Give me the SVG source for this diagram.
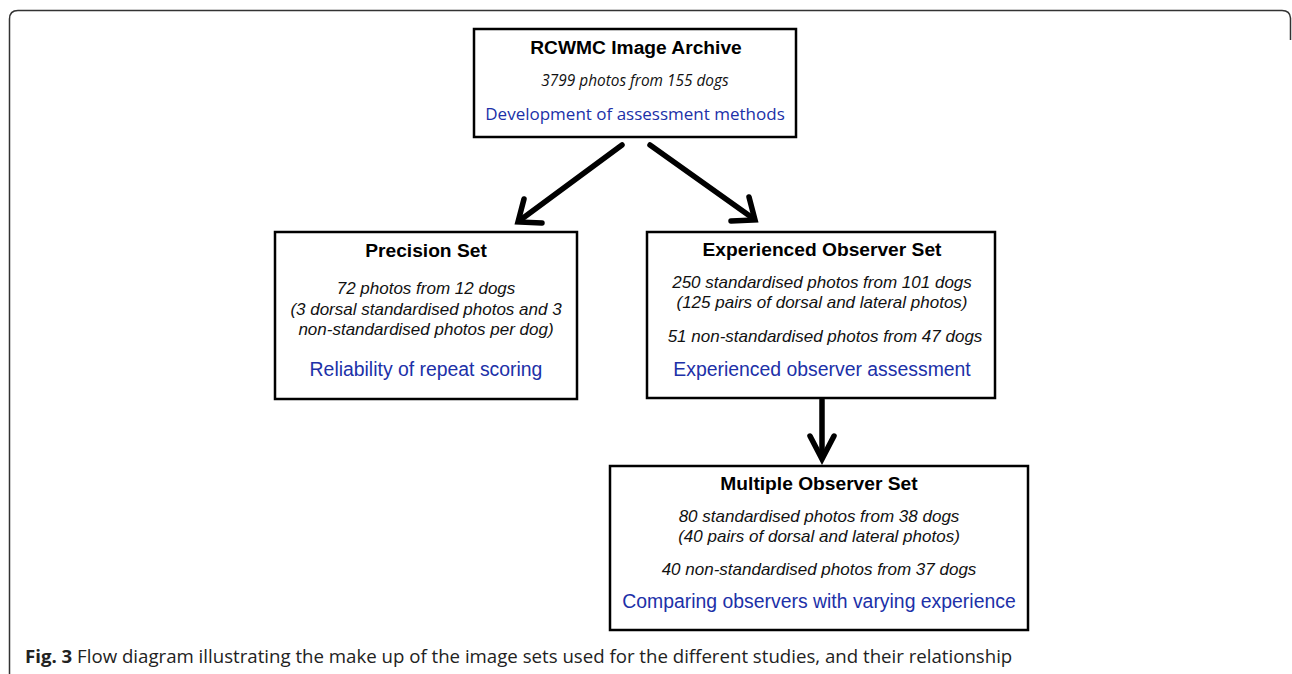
<svg xmlns="http://www.w3.org/2000/svg" width="1292" height="674" viewBox="0 0 1292 674">
<style>
.box{fill:#fff;stroke:#000;stroke-width:2.5}
.title{font-family:"Liberation Sans",Arial,sans-serif;font-weight:bold;font-size:19.2px;fill:#000;text-anchor:middle}
.it{font-family:"Liberation Sans",Arial,sans-serif;font-style:italic;font-size:17px;fill:#111;text-anchor:middle}
.blue{font-family:"Liberation Sans",Arial,sans-serif;font-size:19.4px;fill:#2030a8;text-anchor:middle}
.itc{font-family:"Open Sans",sans-serif;font-style:italic;font-size:15.4px;fill:#111;text-anchor:middle}
.bluec{font-family:"Open Sans",sans-serif;font-size:17px;fill:#2030a8;text-anchor:middle}
.arr{fill:none;stroke:#000;stroke-width:5.5;stroke-linecap:round;stroke-linejoin:miter}
.cap{font-family:"Open Sans",sans-serif;font-size:18.65px;fill:#222}
</style>
<path d="M9.5 674 V19 Q9.5 10.5 18 10.5 H1282 Q1290 10.5 1290.5 18 V40" fill="none" stroke="#333" stroke-width="1.5"/>
<g id="connectors">
<line class="arr" x1="622" y1="145" x2="519" y2="221"/>
<polyline class="arr" points="524,199 518,222 542,223"/>
<line class="arr" x1="650" y1="145" x2="754" y2="219"/>
<polyline class="arr" points="731,221 755,220 749,197"/>
<line class="arr" x1="822" y1="400" x2="822" y2="457"/>
<polyline class="arr" points="810,436 822,459 834,436"/>
</g>
<g id="archive">
<rect class="box" x="474" y="29" width="322" height="108"/>
<text class="title" x="636" y="54">RCWMC Image Archive</text>
<text class="itc" x="635" y="86">3799 photos from 155 dogs</text>
<text class="bluec" x="635" y="120">Development of assessment methods</text>
</g>
<g id="precision">
<rect class="box" x="275" y="232" width="302" height="167"/>
<text class="title" x="426" y="257">Precision Set</text>
<text class="it" x="426" y="294">72 photos from 12 dogs</text>
<text class="it" x="426" y="315">(3 dorsal standardised photos and 3</text>
<text class="it" x="426" y="335">non-standardised photos per dog)</text>
<text class="blue" x="426" y="376">Reliability of repeat scoring</text>
</g>
<g id="experienced">
<rect class="box" x="647" y="232" width="348" height="166"/>
<text class="title" x="822" y="256">Experienced Observer Set</text>
<text class="it" x="822" y="288">250 standardised photos from 101 dogs</text>
<text class="it" x="822" y="308">(125 pairs of dorsal and lateral photos)</text>
<text class="it" x="825" y="342">51 non-standardised photos from 47 dogs</text>
<text class="blue" x="822" y="376">Experienced observer assessment</text>
</g>
<g id="multiple">
<rect class="box" x="610" y="466" width="418" height="164"/>
<text class="title" x="819" y="490">Multiple Observer Set</text>
<text class="it" x="819" y="522">80 standardised photos from 38 dogs</text>
<text class="it" x="819" y="542">(40 pairs of dorsal and lateral photos)</text>
<text class="it" x="819" y="575">40 non-standardised photos from 37 dogs</text>
<text class="blue" x="819" y="608">Comparing observers with varying experience</text>
</g>
<text class="cap" x="25" y="663"><tspan font-weight="bold">Fig. 3</tspan> Flow diagram illustrating the make up of the image sets used for the different studies, and their relationship</text>
</svg>
